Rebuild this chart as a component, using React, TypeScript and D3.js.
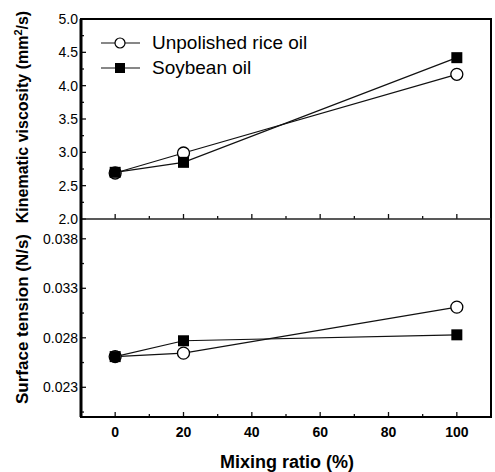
import React, { useRef, useEffect } from "react";
import * as d3 from "d3";

const ratios = [0, 20, 100];
const riceViscosity = [2.69, 2.99, 4.17];
const soyViscosity = [2.7, 2.85, 4.42];
const riceTension = [0.0261, 0.02645, 0.0311];
const soyTension = [0.0261, 0.0277, 0.0283];
const xTicks = [0, 20, 40, 60, 80, 100];
const viscTicks = [2.0, 2.5, 3.0, 3.5, 4.0, 4.5, 5.0];
const tensionTicks = [0.023, 0.028, 0.033, 0.038];
const seriesNames = ["Unpolished rice oil", "Soybean oil"];

const App = () => {
  const ref = useRef<SVGSVGElement>(null);

  useEffect(() => {
    const W = 495, H = 472;
    const left = 81, right = 491, top = 19, mid = 219, bottom = 417;
    const font = "Liberation Sans, Arial, sans-serif";

    const svg = d3.select(ref.current);
    svg.selectAll("*").remove();
    svg.attr("width", W).attr("height", H);
    svg.append("rect").attr("width", W).attr("height", H).attr("fill", "#fff");

    const x = d3.scaleLinear().domain([-10, 110]).range([left, right]);
    const yTop = d3.scaleLinear().domain([2, 5]).range([mid, top]);
    const yBot = d3.scaleLinear().domain([0.02, 0.04]).range([bottom, mid]);

    // x ticks (bottom and on the divider), inward
    const xMinor = d3.range(-10, 111, 10);
    [bottom, mid].forEach((yy) => {
      svg.append("g").selectAll("line").data(xMinor).enter().append("line")
        .attr("x1", (d) => x(d)).attr("x2", (d) => x(d))
        .attr("y1", yy).attr("y2", (d) => yy - (d % 20 === 0 ? 5 : 3))
        .attr("stroke", "#111").attr("stroke-width", 1.3);
    });

    // y ticks
    const topMinor = d3.range(2, 5.01, 0.25);
    svg.append("g").selectAll("line").data(topMinor).enter().append("line")
      .attr("x1", left).attr("x2", (d) => left + (Math.abs((d * 2) % 1) < 1e-6 ? 5 : 3))
      .attr("y1", (d) => yTop(d)).attr("y2", (d) => yTop(d))
      .attr("stroke", "#111").attr("stroke-width", 1.3);
    const botMinor = d3.range(0, 8).map((i) => 0.0205 + i * 0.0025);
    svg.append("g").selectAll("line").data(botMinor).enter().append("line")
      .attr("x1", left).attr("x2", (d, i) => left + (i % 2 === 1 ? 5 : 3))
      .attr("y1", (d) => yBot(d)).attr("y2", (d) => yBot(d))
      .attr("stroke", "#111").attr("stroke-width", 1.3);

    // frame
    svg.append("rect").attr("x", left).attr("y", top).attr("width", right - left).attr("height", bottom - top)
      .attr("fill", "none").attr("stroke", "#000").attr("stroke-width", 2);
    svg.append("line").attr("x1", left).attr("x2", right).attr("y1", mid).attr("y2", mid)
      .attr("stroke", "#222").attr("stroke-width", 1.3);
    svg.append("line").attr("x1", left).attr("x2", left).attr("y1", top).attr("y2", bottom)
      .attr("stroke", "#000").attr("stroke-width", 3);

    // tick labels
    svg.append("g").selectAll("text").data(viscTicks).enter().append("text")
      .attr("x", left - 3).attr("y", (d) => yTop(d) + 5)
      .attr("text-anchor", "end").attr("font-family", font).attr("font-size", 14)
      .text((d) => d.toFixed(1));
    svg.append("g").selectAll("text").data(tensionTicks).enter().append("text")
      .attr("x", left - 3).attr("y", (d) => yBot(d) + 5)
      .attr("text-anchor", "end").attr("font-family", font).attr("font-size", 14)
      .text((d) => d.toFixed(3));
    svg.append("g").selectAll("text").data(xTicks).enter().append("text")
      .attr("x", (d) => x(d)).attr("y", bottom + 20)
      .attr("text-anchor", "middle").attr("font-family", font).attr("font-size", 14)
      .attr("font-weight", "bold")
      .text((d) => d);

    // axis titles
    svg.append("text").attr("x", 287).attr("y", 468).attr("text-anchor", "middle")
      .attr("font-family", font).attr("font-size", 18).attr("font-weight", "bold")
      .text("Mixing ratio (%)");
    const t1 = svg.append("text").attr("transform", `translate(28,${(top + mid) / 2 - 2}) rotate(-90)`)
      .attr("text-anchor", "middle").attr("font-family", font).attr("font-size", 16).attr("font-weight", "bold");
    t1.append("tspan").text("Kinematic viscosity (mm");
    t1.append("tspan").attr("dy", -6).attr("font-size", 11).text("2");
    t1.append("tspan").attr("dy", 6).text("/s)");
    svg.append("text").attr("transform", `translate(28,${(mid + bottom) / 2 + 1}) rotate(-90)`)
      .attr("text-anchor", "middle").attr("font-family", font).attr("font-size", 17).attr("font-weight", "bold")
      .text("Surface tension (N/s)");

    const line = (ys: number[], yScale: d3.ScaleLinear<number, number>) =>
      d3.line<number>().x((d, i) => x(ratios[i])).y((d) => yScale(d))(ys);

    const drawLine = (ys: number[], yScale: d3.ScaleLinear<number, number>) =>
      svg.append("path").attr("d", line(ys, yScale)).attr("fill", "none")
        .attr("stroke", "#111").attr("stroke-width", 1.2);
    const drawCircles = (ys: number[], yScale: d3.ScaleLinear<number, number>) =>
      svg.append("g").selectAll("circle").data(ys).enter().append("circle")
        .attr("cx", (d, i) => x(ratios[i])).attr("cy", (d) => yScale(d)).attr("r", 6)
        .attr("fill", "#fff").attr("stroke", "#000").attr("stroke-width", 1.3);
    const drawSquares = (ys: number[], yScale: d3.ScaleLinear<number, number>) =>
      svg.append("g").selectAll("rect").data(ys).enter().append("rect")
        .attr("x", (d, i) => x(ratios[i]) - 5.5).attr("y", (d) => yScale(d) - 5.5)
        .attr("width", 11).attr("height", 11).attr("fill", "#000");

    drawLine(soyViscosity, yTop);
    drawLine(riceViscosity, yTop);
    drawLine(soyTension, yBot);
    drawLine(riceTension, yBot);
    drawCircles(riceViscosity, yTop);
    drawCircles(riceTension, yBot);
    drawSquares(soyViscosity, yTop);
    drawSquares(soyTension, yBot);

    // legend
    seriesNames.forEach((name, i) => {
      const ly = 43 + i * 25;
      svg.append("line").attr("x1", 101).attr("x2", 140).attr("y1", ly).attr("y2", ly)
        .attr("stroke", "#111").attr("stroke-width", 1.1);
      if (i === 0) {
        svg.append("circle").attr("cx", 120).attr("cy", ly).attr("r", 5)
          .attr("fill", "#fff").attr("stroke", "#000").attr("stroke-width", 1.2);
      } else {
        svg.append("rect").attr("x", 115).attr("y", ly - 5).attr("width", 10).attr("height", 10).attr("fill", "#000");
      }
      svg.append("text").attr("x", 152).attr("y", ly + 6).attr("font-family", font).attr("font-size", 19)
        .text(name);
    });
  }, []);

  return <svg ref={ref} style={{ position: "absolute", left: 0, top: 0 }} />;
};

export default App;
